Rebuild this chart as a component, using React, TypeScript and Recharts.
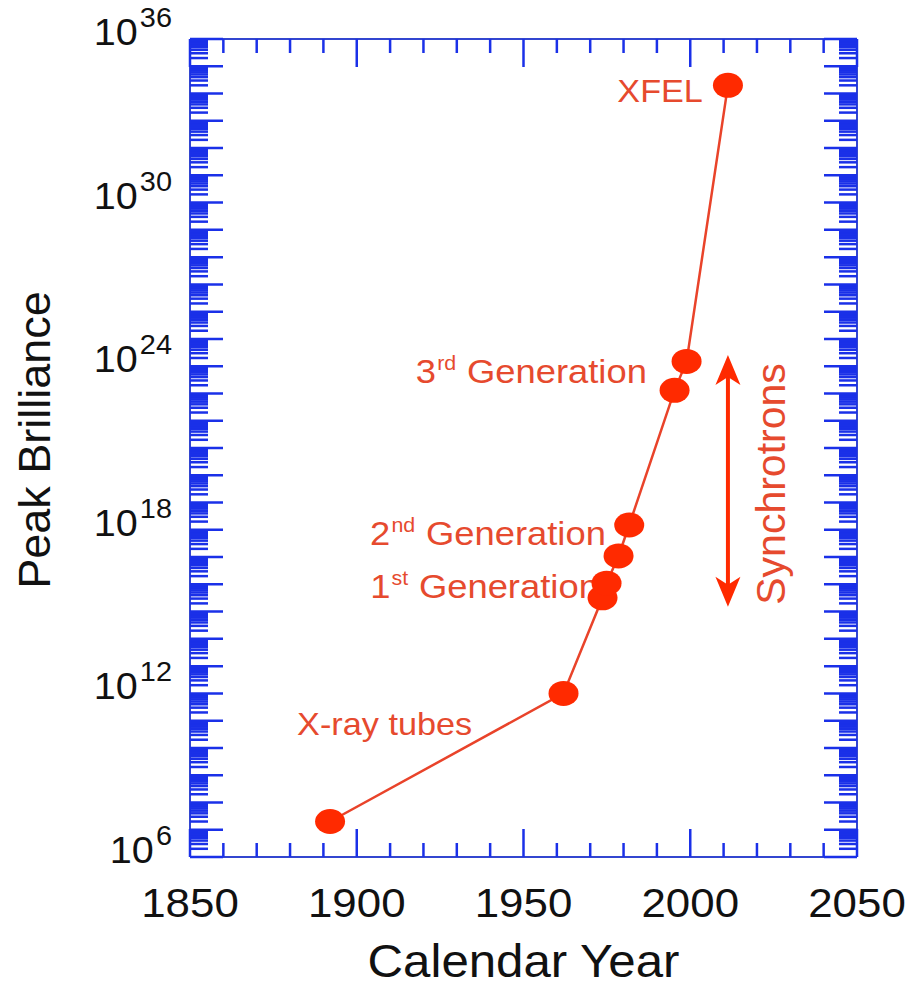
import React from "react";
import { LineChart, Line, XAxis, YAxis, ReferenceDot, ReferenceLine } from "recharts";

// readings
const years = [1892, 1962, 1973.7, 1974.9, 1978.5, 1981.7, 1995.3, 1998.9, 2011.3];
const brilliance = [2e7, 1e12, 3.2e15, 1.1e16, 1.1e17, 1.5e18, 1.3e23, 1.5e24, 2e34];

const yearTicks = [
  1850, 1860, 1870, 1880, 1890, 1900, 1910, 1920, 1930, 1940, 1950, 1960, 1970,
  1980, 1990, 2000, 2010, 2020, 2030, 2040, 2050,
];
const yearLabels = [1850, 1900, 1950, 2000, 2050];
const labelledExps = [6, 12, 18, 24, 30, 36];
const firstExp = 6;
const lastExp = 36;

const annotations = [
  { text: "XFEL", sup: "", lead: "", year: 2003.8, value: 4.9e33, size: 32 },
  { text: "Generation", sup: "rd", lead: "3", year: 1987, value: 2.4e23, size: 34 },
  { text: "Generation", sup: "nd", lead: "2", year: 1974.7, value: 2.8e17, size: 34 },
  { text: "Generation", sup: "st", lead: "1", year: 1972.6, value: 3.2e15, size: 34 },
  { text: "X-ray tubes", sup: "", lead: "", year: 1934.6, value: 3e10, size: 32 },
];

const arrowYear = 2011.3;
const arrowTop = 2.6e24;
const arrowBottom = 1.5e15;
const synchroLabel = { year: 2028.4, value: 4.8e19 };

const data = years.map((year, i) => ({ year, b: brilliance[i] }));

// log tick positions: every decade plus 2..9 in between
const logTicks: number[] = [];
for (let e = firstExp; e <= lastExp; e++) {
  logTicks.push(Math.pow(10, e));
  if (e < lastExp) for (let m = 2; m <= 9; m++) logTicks.push(m * Math.pow(10, e));
}

const FRAME = "#3346d0";
const TICK = "#1a30e8";
const RED = "#ff2a00";
const LINE_RED = "#e9432a";
const TEXT_RED = "#e64a2e";
const FONT = "'Liberation Sans', Arial, Helvetica, sans-serif";
const SX = 1.07; // the source picture is a little wider than tall

function decadeOf(v: number) {
  const e = Math.log10(v);
  const r = Math.round(e);
  return { r, isDecade: Math.abs(e - r) < 1e-6 };
}

function YTick(props: any) {
  const { x, y, payload, side } = props;
  const { r, isDecade } = decadeOf(payload.value);
  const len = isDecade ? 33 : 18;
  const dir = side === "left" ? 1 : -1;
  const showLabel = side === "left" && isDecade && labelledExps.includes(r);
  return (
    <g>
      <line x1={x} y1={y} x2={x + dir * len} y2={y} stroke={TICK} strokeWidth={2.5} />
      {showLabel && (
        <text
          transform={`translate(${x - 18} ${y + 6}) scale(${SX} 1)`}
          textAnchor="end"
          fontFamily={FONT}
          fontSize={37}
          fill="#111"
        >
          <tspan>10</tspan>
          <tspan dx={2} dy={-18} fontSize={27}>
            {r}
          </tspan>
        </text>
      )}
    </g>
  );
}

function XTick(props: any) {
  const { x, y, payload, side } = props;
  const major = yearLabels.includes(payload.value);
  const len = major ? 28 : 14;
  const dir = side === "bottom" ? -1 : 1;
  return (
    <g>
      <line x1={x} y1={y} x2={x} y2={y + dir * len} stroke={TICK} strokeWidth={2.5} />
      {side === "bottom" && major && (
        <text
          transform={`translate(${x} ${y + 60}) scale(${SX} 1)`}
          textAnchor="middle"
          fontFamily={FONT}
          fontSize={41}
          fill="#111"
        >
          {payload.value}
        </text>
      )}
    </g>
  );
}

function Marker(props: any) {
  const { cx, cy, index } = props;
  if (cx == null || cy == null) return <g key={index} />;
  return <ellipse key={index} cx={cx} cy={cy} rx={15} ry={12.5} fill={RED} />;
}

function Arrow(props: any) {
  const { x1, y1, y2 } = props;
  const top = Math.min(y1, y2);
  const bottom = Math.max(y1, y2);
  const x = x1;
  const hl = 30;
  const hw = 12.5;
  return (
    <g>
      <line x1={x} y1={top + 20} x2={x} y2={bottom - 20} stroke={RED} strokeWidth={4} />
      <polygon
        points={`${x},${top} ${x - hw},${top + hl} ${x},${top + hl - 8} ${x + hw},${top + hl}`}
        fill={RED}
      />
      <polygon
        points={`${x},${bottom} ${x - hw},${bottom - hl} ${x},${bottom - hl + 8} ${x + hw},${bottom - hl}`}
        fill={RED}
      />
    </g>
  );
}

export default function App() {
  return (
    <div style={{ position: "absolute", left: 0, top: 0, background: "#fff" }}>
      <LineChart width={913} height={988} data={data} margin={{ top: 0, right: 0, bottom: 0, left: 0 }}>
        <XAxis
          xAxisId="bottom"
          dataKey="year"
          type="number"
          domain={[1850, 2050]}
          ticks={yearTicks}
          interval={0}
          height={131}
          tickSize={0}
          tickMargin={0}
          tickLine={false}
          axisLine={{ stroke: FRAME, strokeWidth: 2 }}
          tick={<XTick side="bottom" />}
          label={{
            content: ({ viewBox }: any) => (
              <text
                transform={`translate(${viewBox.x + viewBox.width / 2} 977) scale(${SX} 1)`}
                textAnchor="middle"
                fontFamily={FONT}
                fontSize={46}
                fill="#111"
              >
                Calendar Year
              </text>
            ),
          }}
        />
        <XAxis
          xAxisId="top"
          orientation="top"
          dataKey="year"
          type="number"
          domain={[1850, 2050]}
          ticks={yearTicks}
          interval={0}
          height={39}
          tickSize={0}
          tickMargin={0}
          tickLine={false}
          axisLine={{ stroke: FRAME, strokeWidth: 2 }}
          tick={<XTick side="top" />}
        />
        <YAxis
          yAxisId="left"
          type="number"
          scale="log"
          domain={[1e6, 1e36]}
          ticks={logTicks}
          interval={0}
          width={190}
          tickSize={0}
          tickMargin={0}
          tickLine={false}
          axisLine={{ stroke: FRAME, strokeWidth: 2 }}
          tick={<YTick side="left" />}
          label={{
            content: ({ viewBox }: any) => {
              const cx = viewBox.x + 50;
              const cy = viewBox.y + viewBox.height / 2 - 8;
              return (
                <text
                  x={cx}
                  y={cy}
                  transform={`rotate(-90 ${cx} ${cy})`}
                  textAnchor="middle"
                  fontFamily={FONT}
                  fontSize={45}
                  fill="#111"
                >
                  Peak Brilliance
                </text>
              );
            },
          }}
        />
        <YAxis
          yAxisId="right"
          orientation="right"
          type="number"
          scale="log"
          domain={[1e6, 1e36]}
          ticks={logTicks}
          interval={0}
          width={56}
          tickSize={0}
          tickMargin={0}
          tickLine={false}
          axisLine={{ stroke: FRAME, strokeWidth: 2 }}
          tick={<YTick side="right" />}
        />

        {/* invisible series so the top and right axes get their scales */}
        <Line
          xAxisId="top"
          yAxisId="right"
          dataKey="b"
          stroke="none"
          dot={false}
          activeDot={false}
          isAnimationActive={false}
        />

        <ReferenceLine
          xAxisId="bottom"
          yAxisId="left"
          segment={[
            { x: arrowYear, y: arrowTop },
            { x: arrowYear, y: arrowBottom },
          ]}
          shape={(p: any) => <Arrow {...p} />}
        />

        {annotations.map((a) => (
          <ReferenceDot
            key={a.year}
            xAxisId="bottom"
            yAxisId="left"
            x={a.year}
            y={a.value}
            shape={(p: any) => (
              <text
                transform={`translate(${p.cx} ${p.cy}) scale(${SX} 1)`}
                textAnchor="end"
                fontFamily={FONT}
                fontSize={a.size}
                fill={TEXT_RED}
              >
                {a.lead && <tspan>{a.lead}</tspan>}
                {a.sup && (
                  <tspan dx={1} dy={-13} fontSize={20}>
                    {a.sup}
                  </tspan>
                )}
                <tspan dx={a.sup ? 10 : 0} dy={a.sup ? 13 : 0}>
                  {a.text}
                </tspan>
              </text>
            )}
          />
        ))}

        <Line
          xAxisId="bottom"
          yAxisId="left"
          dataKey="b"
          stroke={LINE_RED}
          strokeWidth={2.5}
          dot={(p: any) => <Marker {...p} />}
          activeDot={false}
          isAnimationActive={false}
        />

        <ReferenceDot
          xAxisId="bottom"
          yAxisId="left"
          x={synchroLabel.year}
          y={synchroLabel.value}
          shape={(p: any) => (
            <text
              x={p.cx}
              y={p.cy}
              transform={`rotate(-90 ${p.cx} ${p.cy})`}
              textAnchor="middle"
              fontFamily={FONT}
              fontSize={41}
              fill={TEXT_RED}
            >
              Synchrotrons
            </text>
          )}
        />
      </LineChart>
    </div>
  );
}
